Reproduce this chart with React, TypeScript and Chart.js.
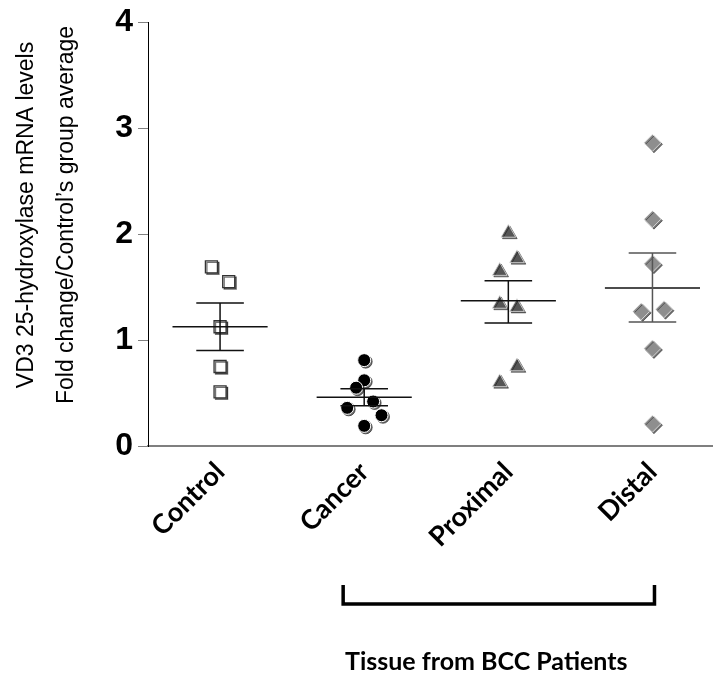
import React, { useEffect, useRef } from 'react';
import { Chart, registerables } from 'chart.js';

Chart.register(...registerables);

const categories = ['Control', 'Cancer', 'Proximal', 'Distal'];
const yTicks = [0, 1, 2, 3, 4];

const controlValues = [1.69, 1.55, 1.125, 0.75, 0.51];
const controlJitter = [-0.06, 0.06, 0, 0, 0];
const cancerValues = [0.81, 0.62, 0.55, 0.42, 0.36, 0.29, 0.19];
const cancerJitter = [0, 0, -0.056, 0.062, -0.118, 0.12, 0];
const proximalValues = [2.01, 1.77, 1.65, 1.34, 1.31, 0.75, 0.6];
const proximalJitter = [0, 0.06, -0.06, -0.06, 0.06, 0.06, -0.06];
const distalValues = [2.86, 2.14, 1.72, 1.27, 1.29, 0.92, 0.21];
const distalJitter = [0, 0, 0, -0.078, 0.08, 0, 0];

const groupMeans = [1.125, 0.46, 1.37, 1.49];
const semUpper = [1.35, 0.54, 1.56, 1.82];
const semLower = [0.9, 0.38, 1.16, 1.17];

const yTitleLines = ['VD3 25-hydroxylase mRNA levels', 'Fold change/Control\u2019s group average'];
const groupLabel = 'Tissue from BCC Patients';

function toPoints(values: number[], jitter: number[], idx: number) {
  return values.map((v, i) => ({ x: idx + 1 + jitter[i], y: v }));
}

export default function App() {
  const ref = useRef<HTMLCanvasElement>(null);

  useEffect(() => {
    document.body.style.margin = '0';
    const canvas = ref.current!;

    const overlay = {
      id: 'overlay',
      beforeDatasetDraw(chart: any) {
        const ctx = chart.ctx;
        ctx.save();
        ctx.shadowColor = 'rgba(0,0,0,0.55)';
        ctx.shadowOffsetX = 1.5;
        ctx.shadowOffsetY = 1.5;
        ctx.shadowBlur = 0.5;
      },
      afterDatasetDraw(chart: any) {
        chart.ctx.restore();
      },
      afterDatasetsDraw(chart: any) {
        const ctx = chart.ctx;
        const xs = chart.scales.x;
        const ys = chart.scales.y;
        ctx.save();
        ctx.lineWidth = 1.5;
        groupMeans.forEach((m, i) => {
          const c = i + 1;
          const color = i === 3 ? '#555' : '#111';
          ctx.strokeStyle = '#111';
          const ym = ys.getPixelForValue(m);
          ctx.beginPath();
          ctx.moveTo(xs.getPixelForValue(c - 0.33), ym);
          ctx.lineTo(xs.getPixelForValue(c + 0.33), ym);
          ctx.stroke();
          ctx.strokeStyle = color;
          const yu = ys.getPixelForValue(semUpper[i]);
          const yl = ys.getPixelForValue(semLower[i]);
          const xc = xs.getPixelForValue(c);
          ctx.beginPath();
          ctx.moveTo(xc, yu);
          ctx.lineTo(xc, yl);
          ctx.moveTo(xs.getPixelForValue(c - 0.165), yu);
          ctx.lineTo(xs.getPixelForValue(c + 0.165), yu);
          ctx.moveTo(xs.getPixelForValue(c - 0.165), yl);
          ctx.lineTo(xs.getPixelForValue(c + 0.165), yl);
          ctx.stroke();
        });
        ctx.restore();
      },
      afterDraw(chart: any) {
        const ctx = chart.ctx;
        const xs = chart.scales.x;
        ctx.save();
        // y-axis titles
        ctx.fillStyle = '#000';
        ctx.font = '23px "Liberation Sans", Arial, sans-serif';
        ctx.textAlign = 'center';
        ctx.textBaseline = 'middle';
        const titleX = [27, 67];
        yTitleLines.forEach((line, i) => {
          ctx.save();
          ctx.translate(titleX[i], 215);
          ctx.rotate(-Math.PI / 2);
          ctx.fillText(line, 0, 0);
          ctx.restore();
        });
        // bracket
        const bl = xs.getPixelForValue(2 - 0.146);
        const br = xs.getPixelForValue(4 + 0.014);
        ctx.strokeStyle = '#000';
        ctx.lineWidth = 3.5;
        ctx.lineJoin = 'miter';
        ctx.beginPath();
        ctx.moveTo(bl, 585);
        ctx.lineTo(bl, 604);
        ctx.lineTo(br, 604);
        ctx.lineTo(br, 585);
        ctx.stroke();
        // group label
        ctx.font = 'bold 25px Lato, "Open Sans", sans-serif';
        ctx.fillText(groupLabel, xs.getPixelForValue(2.847), 662);
        ctx.restore();
      },
    };

    const chart = new Chart(canvas, {
      type: 'scatter',
      data: {
        datasets: [
          {
            data: toPoints(controlValues, controlJitter, 0),
            pointStyle: 'rect',
            pointRadius: 8.5,
            backgroundColor: '#ffffff',
            borderColor: '#333333',
            borderWidth: 1.3,
          },
          {
            data: toPoints(cancerValues, cancerJitter, 1),
            pointStyle: 'circle',
            pointRadius: 6.5,
            backgroundColor: '#000000',
            borderColor: '#ffffff',
            borderWidth: 1,
          },
          {
            data: toPoints(proximalValues, proximalJitter, 2),
            pointStyle: 'triangle',
            pointRadius: 8.5,
            backgroundColor: '#555555',
            borderColor: '#e0e0e0',
            borderWidth: 0.8,
          },
          {
            data: toPoints(distalValues, distalJitter, 3),
            pointStyle: 'rectRot',
            pointRadius: 8.5,
            backgroundColor: '#8e8e8e',
            borderColor: '#eeeeee',
            borderWidth: 0.8,
          },
        ],
      },
      options: {
        responsive: false,
        animation: false,
        devicePixelRatio: 1,
        layout: { autoPadding: false, padding: { top: 22, right: 0, left: 0, bottom: 0 } },
        plugins: { legend: { display: false }, tooltip: { enabled: false } },
        scales: {
          x: {
            type: 'linear',
            min: 0.5,
            max: 4.42,
            afterBuildTicks: (s: any) => {
              s.ticks = categories.map((_, i) => ({ value: i + 1 }));
            },
            afterFit: (s: any) => {
              s.height = 235;
              s.paddingLeft = 0;
              s.paddingRight = 0;
            },
            grid: { display: false },
            border: { display: true, color: '#7f7f7f', width: 2 },
            ticks: {
              minRotation: 45,
              maxRotation: 45,
              autoSkip: false,
              padding: 2,
              color: '#000',
              font: { family: 'Lato, "Open Sans", sans-serif', weight: 'bold', size: 27 },
              callback: (v: any) => categories[Math.round(v) - 1] ?? '',
            },
          },
          y: {
            min: 0,
            max: 4,
            afterBuildTicks: (s: any) => {
              s.ticks = yTicks.map((v) => ({ value: v }));
            },
            afterFit: (s: any) => {
              s.width = 148;
              s.paddingTop = 0;
              s.paddingBottom = 0;
            },
            ticks: {
              padding: 5,
              color: '#000',
              font: { family: '"Liberation Sans Narrow", "Liberation Sans", Arial', weight: 'bold', size: 32 },
            },
            grid: { drawOnChartArea: false, tickLength: 10, color: '#808080', lineWidth: 1 },
            border: { color: '#000', width: 1 },
          },
        },
      },
      plugins: [overlay],
    } as any);

    return () => chart.destroy();
  }, []);

  return <canvas ref={ref} width={713} height={681} style={{ display: 'block' }} />;
}
